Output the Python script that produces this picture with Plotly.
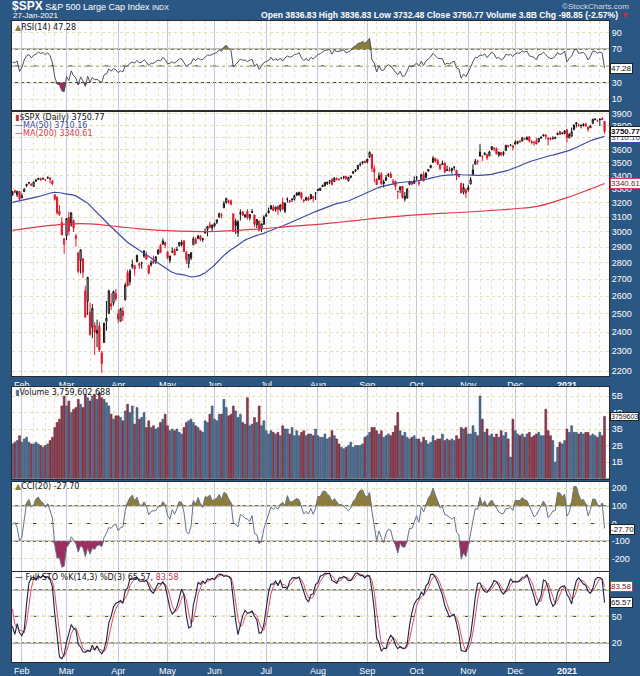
import numpy as np
import pandas as pd
import plotly.graph_objects as go

# ---------------- DATA ----------------
HOLIDAYS = ["2020-02-17", "2020-04-10", "2020-05-25", "2020-07-03", "2020-09-07",
            "2020-11-26", "2020-12-25", "2021-01-01", "2021-01-18"]
FIRST_DAY, LAST_DAY = "2020-01-28", "2021-01-27"

opens = [
    3255.35, 3289.46, 3256.45, 3282.33,
    3235.66, 3280.61, 3324.91, 3344.92, 3335.54, 3318.28, 3365.87, 3370.50, 3365.90, 3378.08, 3369.04, 3380.39, 3380.45, 3360.50, 3257.61, 3238.94, 3139.90, 3062.54, 2916.90,
    2974.28, 3096.46, 3045.75, 3075.70, 2954.20, 2863.89, 2813.48, 2825.60, 2630.86, 2569.99, 2508.59, 2425.66, 2436.50, 2393.48, 2431.94, 2290.71, 2344.44, 2457.77, 2501.29, 2555.87, 2558.98, 2614.69,
    2498.08, 2458.54, 2514.92, 2578.28, 2738.65, 2685.00, 2776.99, 2782.46, 2805.10, 2795.64, 2799.34, 2842.43, 2845.62, 2784.81, 2787.89, 2810.42, 2812.64, 2854.65, 2909.96, 2918.46, 2930.91,
    2869.09, 2815.01, 2868.88, 2883.14, 2878.26, 2908.83, 2915.46, 2939.50, 2865.86, 2794.54, 2829.95, 2913.86, 2948.59, 2953.63, 2969.95, 2948.05, 3004.08, 3015.65, 3046.61, 3025.17,
    3038.78, 3064.78, 3098.90, 3111.56, 3163.84, 3199.92, 3213.32, 3213.42, 3123.53, 3071.04, 2993.76, 3131.00, 3136.13, 3101.64, 3140.29, 3094.42, 3138.70, 3114.40, 3046.60, 3073.20, 3018.59, 3050.20,
    3105.92, 3143.64, 3155.29, 3166.44, 3153.07, 3176.17, 3152.47, 3205.08, 3141.11, 3225.98, 3208.36, 3224.21, 3224.29, 3268.52, 3254.86, 3271.64, 3218.58, 3219.84, 3234.27, 3227.22, 3231.76, 3270.45,
    3288.26, 3289.92, 3317.37, 3323.17, 3340.05, 3356.04, 3370.34, 3355.46, 3372.95, 3368.66, 3380.86, 3387.04, 3392.51, 3360.48, 3386.01, 3418.09, 3435.95, 3449.97, 3485.14, 3494.69, 3509.73,
    3507.44, 3543.76, 3564.74, 3453.60, 3371.88, 3369.82, 3412.56, 3352.70, 3363.56, 3407.73, 3411.23, 3346.86, 3357.38, 3285.57, 3295.75, 3320.11, 3226.14, 3236.66, 3333.90, 3350.92, 3341.21,
    3385.87, 3338.94, 3367.27, 3408.74, 3384.56, 3434.28, 3459.67, 3500.02, 3534.01, 3515.47, 3453.72, 3493.50, 3493.66, 3439.38, 3439.91, 3438.50, 3464.90, 3441.42, 3403.15, 3342.48, 3277.17, 3293.59,
    3296.20, 3336.25, 3406.46, 3485.74, 3508.34, 3583.04, 3543.26, 3563.22, 3562.67, 3552.57, 3600.16, 3610.31, 3612.09, 3559.41, 3579.31, 3566.82, 3594.52, 3635.50, 3638.55, 3634.18,
    3645.87, 3653.78, 3668.28, 3670.94, 3694.73, 3683.05, 3705.98, 3659.13, 3656.08, 3675.27, 3666.41, 3696.25, 3713.65, 3722.39, 3684.28, 3698.08, 3693.42, 3694.03, 3723.03, 3750.01, 3736.19, 3733.27,
    3764.61, 3698.02, 3712.20, 3764.71, 3815.05, 3803.14, 3801.62, 3802.23, 3814.98, 3788.73, 3781.88, 3816.22, 3857.46, 3844.24, 3851.68, 3862.96, 3836.83,
]
highs = [
    3285.78, 3293.47, 3285.91, 3282.33,
    3268.44, 3306.92, 3337.58, 3347.96, 3341.42, 3352.26, 3375.63, 3381.47, 3385.09, 3380.69, 3375.01, 3393.52, 3389.15, 3360.76, 3259.81, 3246.99, 3182.51, 3097.07, 2959.72,
    3090.96, 3136.72, 3130.97, 3083.04, 2985.93, 2863.89, 2882.59, 2825.60, 2660.95, 2711.33, 2562.98, 2553.93, 2453.57, 2466.97, 2453.01, 2300.73, 2449.71, 2571.42, 2637.01, 2615.91, 2631.80, 2641.39,
    2522.75, 2533.22, 2538.18, 2676.85, 2756.89, 2760.75, 2818.57, 2782.46, 2851.85, 2801.88, 2806.51, 2879.22, 2868.98, 2785.54, 2815.10, 2844.90, 2842.71, 2887.72, 2921.15, 2954.86, 2930.91,
    2869.09, 2844.24, 2898.23, 2891.11, 2901.92, 2932.16, 2944.25, 2945.82, 2874.14, 2852.80, 2865.01, 2968.09, 2964.21, 2980.29, 2978.50, 2956.76, 3021.72, 3036.25, 3068.67, 3049.17,
    3062.18, 3081.07, 3130.94, 3128.91, 3211.72, 3233.13, 3222.71, 3223.27, 3123.53, 3088.42, 3079.76, 3153.45, 3141.16, 3120.00, 3155.53, 3120.92, 3154.90, 3115.01, 3086.25, 3073.73, 3053.89, 3111.51,
    3128.44, 3165.81, 3182.59, 3184.15, 3171.80, 3179.78, 3186.82, 3235.32, 3200.95, 3238.28, 3220.39, 3233.52, 3258.61, 3277.29, 3279.32, 3279.99, 3227.26, 3241.43, 3243.72, 3264.74, 3250.92, 3272.17,
    3302.73, 3306.84, 3330.77, 3351.03, 3352.54, 3363.29, 3381.01, 3387.89, 3387.24, 3378.51, 3387.59, 3395.06, 3399.54, 3390.80, 3399.96, 3432.09, 3444.21, 3481.07, 3501.38, 3509.23, 3514.77,
    3528.03, 3588.11, 3564.85, 3479.15, 3379.97, 3424.77, 3425.55, 3368.95, 3402.93, 3419.48, 3428.92, 3375.17, 3362.27, 3285.57, 3320.31, 3323.35, 3278.70, 3306.88, 3360.74, 3357.92, 3393.56,
    3397.18, 3369.10, 3409.57, 3431.56, 3426.26, 3447.28, 3482.34, 3549.85, 3534.01, 3527.94, 3489.08, 3515.76, 3502.42, 3476.93, 3464.86, 3460.53, 3466.46, 3441.42, 3409.51, 3342.48, 3341.05, 3304.93,
    3330.14, 3389.49, 3486.25, 3529.05, 3521.58, 3645.99, 3557.22, 3581.16, 3569.02, 3593.66, 3628.51, 3623.11, 3619.09, 3585.22, 3581.23, 3589.81, 3642.31, 3635.50, 3644.31, 3634.18,
    3678.45, 3670.96, 3682.73, 3699.20, 3697.41, 3708.45, 3712.39, 3678.49, 3665.91, 3697.61, 3695.29, 3711.27, 3725.12, 3726.70, 3702.90, 3698.26, 3711.24, 3703.82, 3740.51, 3756.12, 3744.63, 3760.20,
    3769.99, 3737.83, 3783.04, 3811.55, 3826.69, 3817.86, 3810.78, 3820.96, 3823.60, 3788.73, 3804.53, 3859.75, 3861.45, 3852.31, 3859.23, 3870.90, 3836.83,
]
lows = [
    3253.22, 3271.89, 3242.80, 3214.68,
    3235.66, 3280.61, 3313.75, 3334.39, 3322.12, 3317.77, 3352.72, 3369.72, 3360.52, 3366.15, 3355.61, 3378.83, 3341.02, 3328.45, 3214.65, 3118.77, 3108.99, 2977.39, 2855.84,
    2945.19, 2976.63, 3034.38, 2999.83, 2901.54, 2734.43, 2734.00, 2707.22, 2478.86, 2492.37, 2380.94, 2367.04, 2280.52, 2319.78, 2295.56, 2191.86, 2344.44, 2407.53, 2500.72, 2520.02, 2545.28, 2571.15,
    2447.49, 2455.79, 2459.96, 2574.57, 2657.67, 2663.30, 2762.36, 2721.17, 2805.10, 2761.54, 2764.32, 2830.88, 2820.43, 2727.10, 2775.95, 2794.26, 2791.76, 2852.89, 2860.71, 2912.16, 2892.47,
    2821.61, 2797.85, 2863.55, 2847.65, 2876.48, 2902.88, 2903.44, 2869.59, 2793.15, 2766.64, 2816.78, 2913.86, 2922.35, 2953.63, 2938.57, 2933.59, 2988.17, 2969.75, 3023.40, 2998.61,
    3031.54, 3051.64, 3098.90, 3090.41, 3163.84, 3196.00, 3193.11, 3181.49, 2999.49, 2984.47, 2965.66, 3076.06, 3108.03, 3093.51, 3083.11, 3079.39, 3127.12, 3032.13, 3024.01, 3004.63, 2999.74, 3047.83,
    3101.17, 3124.52, 3155.29, 3142.93, 3136.53, 3115.70, 3136.22, 3149.43, 3127.66, 3200.76, 3198.59, 3205.65, 3215.16, 3247.77, 3253.10, 3222.66, 3200.05, 3214.25, 3216.17, 3227.22, 3204.13, 3220.26,
    3284.53, 3286.37, 3317.37, 3318.14, 3328.72, 3335.44, 3326.44, 3355.46, 3363.35, 3361.64, 3379.22, 3370.15, 3369.66, 3354.69, 3379.31, 3413.13, 3425.84, 3444.15, 3468.35, 3484.32, 3493.25,
    3494.60, 3535.23, 3427.41, 3349.63, 3329.27, 3366.84, 3329.25, 3310.47, 3363.56, 3389.25, 3384.45, 3328.82, 3292.40, 3229.10, 3270.95, 3232.57, 3209.45, 3228.44, 3332.91, 3327.54, 3340.47,
    3361.39, 3323.69, 3367.27, 3354.54, 3384.56, 3428.15, 3458.07, 3499.61, 3500.86, 3480.55, 3440.89, 3480.45, 3419.93, 3435.65, 3433.06, 3415.34, 3440.45, 3364.86, 3388.71, 3268.89, 3259.82, 3233.94,
    3279.74, 3336.25, 3405.17, 3485.74, 3484.34, 3547.48, 3511.91, 3557.00, 3518.58, 3552.57, 3600.16, 3588.68, 3567.33, 3543.84, 3556.85, 3552.77, 3594.52, 3617.76, 3629.33, 3594.39,
    3645.87, 3644.84, 3657.17, 3670.94, 3678.88, 3678.83, 3660.54, 3645.18, 3633.40, 3645.84, 3659.62, 3688.57, 3710.87, 3685.84, 3636.48, 3676.16, 3689.28, 3689.32, 3723.03, 3723.31, 3730.21, 3726.88,
    3662.71, 3695.07, 3705.34, 3764.71, 3783.60, 3789.02, 3776.51, 3791.50, 3792.86, 3749.62, 3780.37, 3816.22, 3845.05, 3830.41, 3797.16, 3847.78, 3732.48,
]
closes = [
    3276.24, 3273.40, 3283.66, 3225.52,
    3248.92, 3297.59, 3334.69, 3345.78, 3327.71, 3352.09, 3357.75, 3379.45, 3373.94, 3380.16, 3370.29, 3386.15, 3373.23, 3337.75, 3225.89, 3128.21, 3116.39, 2978.76, 2954.22,
    3090.23, 3003.37, 3130.12, 3023.94, 2972.37, 2746.56, 2882.23, 2741.38, 2480.64, 2711.02, 2386.13, 2529.19, 2398.10, 2409.39, 2304.92, 2237.40, 2447.33, 2475.56, 2630.07, 2541.47, 2626.65, 2584.59,
    2470.50, 2526.90, 2488.65, 2663.68, 2659.41, 2749.98, 2789.82, 2761.63, 2846.06, 2783.36, 2799.55, 2874.56, 2823.16, 2736.56, 2799.31, 2797.80, 2836.74, 2878.48, 2863.39, 2939.51, 2912.43,
    2830.71, 2842.74, 2868.44, 2848.42, 2881.19, 2929.80, 2930.32, 2870.12, 2820.00, 2852.50, 2863.70, 2953.91, 2922.94, 2971.61, 2948.51, 2955.45, 2991.77, 3036.13, 3029.73, 3044.31,
    3055.73, 3080.82, 3122.87, 3112.35, 3193.93, 3232.39, 3207.18, 3190.14, 3002.10, 3041.31, 3066.59, 3124.74, 3113.49, 3115.34, 3097.74, 3117.86, 3131.29, 3050.33, 3083.76, 3009.05, 3053.24, 3100.29,
    3115.86, 3130.01, 3179.72, 3145.32, 3169.94, 3152.05, 3185.04, 3155.22, 3197.52, 3226.56, 3215.57, 3224.73, 3251.84, 3257.30, 3276.02, 3235.66, 3215.63, 3239.41, 3218.44, 3258.44, 3246.22, 3271.12,
    3294.61, 3306.51, 3327.77, 3349.16, 3351.28, 3360.47, 3333.69, 3380.35, 3373.43, 3372.85, 3381.99, 3389.78, 3374.85, 3385.51, 3397.16, 3431.28, 3443.62, 3478.73, 3484.55, 3508.01, 3500.31,
    3526.65, 3580.84, 3455.06, 3426.96, 3331.84, 3398.96, 3339.19, 3340.97, 3383.54, 3401.20, 3385.49, 3357.01, 3319.47, 3281.06, 3315.57, 3236.92, 3246.59, 3298.46, 3351.60, 3335.47, 3363.00,
    3380.80, 3348.42, 3408.60, 3360.97, 3419.44, 3446.83, 3477.14, 3534.22, 3511.93, 3488.67, 3483.34, 3483.81, 3426.92, 3443.12, 3435.56, 3453.49, 3465.39, 3400.97, 3390.68, 3271.03, 3310.11, 3269.96,
    3310.24, 3369.16, 3443.44, 3510.45, 3509.44, 3550.50, 3545.53, 3572.66, 3537.01, 3585.15, 3626.91, 3609.53, 3567.79, 3581.87, 3557.54, 3577.59, 3635.41, 3629.65, 3638.35, 3621.63,
    3662.45, 3669.01, 3666.72, 3699.12, 3691.96, 3702.25, 3672.82, 3668.10, 3663.46, 3647.49, 3694.62, 3701.17, 3722.48, 3709.41, 3694.92, 3687.26, 3690.01, 3703.06, 3735.36, 3727.04, 3732.04, 3756.07,
    3700.65, 3726.86, 3748.14, 3803.79, 3824.68, 3799.61, 3801.19, 3809.84, 3795.54, 3768.25, 3798.91, 3851.85, 3853.07, 3841.47, 3855.36, 3849.62, 3750.77,
]
volumes_bn = [
    2.1, 2.2, 2.3, 2.6,
    2.2, 2.4, 2.5, 2.2, 2.1, 2.1, 2.2, 2.1, 2.0, 1.9, 2.0, 2.1, 2.3, 2.5, 3.1, 3.4, 3.6, 4.4, 5.0,
    4.4, 4.7, 4.0, 4.2, 4.3, 4.8, 4.5, 4.3, 5.1, 4.9, 4.7, 5.0, 5.1, 4.8, 5.2, 4.9, 4.8, 4.6, 4.4, 3.9, 3.6, 3.8,
    3.8, 3.7, 3.5, 4.1, 4.5, 4.0, 4.4, 3.3, 4.3, 3.6, 3.7, 4.0, 3.1, 3.5, 3.1, 3.2, 3.0, 3.1, 3.4, 3.6, 3.9,
    3.2, 2.9, 3.0, 2.9, 3.0, 2.8, 2.7, 3.1, 3.4, 3.5, 3.6, 3.4, 3.2, 3.1, 2.9, 2.8, 3.5, 3.4, 3.9, 4.4,
    3.6, 3.5, 3.9, 3.9, 4.8, 4.3, 3.8, 3.9, 4.4, 4.1, 3.7, 3.9, 3.4, 3.3, 4.9, 3.2, 3.3, 3.7, 3.4, 4.4, 3.2, 3.5,
    2.9, 2.7, 2.9, 2.8, 2.7, 2.8, 2.6, 3.2, 3.0, 3.0, 2.7, 3.1, 2.6, 2.9, 2.6, 2.8, 2.9, 2.6, 2.7, 2.7, 2.6, 3.0,
    2.6, 2.5, 2.5, 2.7, 2.4, 2.5, 2.9, 2.6, 2.4, 2.1, 1.9, 1.8, 1.9, 2.0, 2.2, 1.9, 2.0, 2.0, 2.0, 2.1, 2.5,
    2.6, 2.8, 3.1, 3.1, 2.9, 2.7, 2.9, 2.5, 2.6, 2.7, 2.6, 2.8, 3.2, 4.0, 2.9, 2.6, 2.8, 2.5, 2.4, 2.5, 2.6,
    2.4, 2.4, 2.2, 2.5, 2.3, 2.1, 2.2, 2.6, 2.3, 2.4, 2.4, 2.7, 2.3, 2.4, 2.3, 2.4, 2.3, 2.6, 2.4, 3.1, 3.0, 3.1,
    2.7, 2.7, 3.2, 2.8, 2.6, 5.0, 3.6, 2.8, 3.0, 2.6, 2.7, 2.5, 2.7, 2.5, 2.9, 2.6, 2.8, 2.4, 1.3, 3.6,
    2.9, 2.7, 2.6, 2.7, 2.5, 2.7, 2.8, 2.5, 2.6, 2.7, 2.8, 2.6, 2.6, 4.2, 2.9, 2.6, 2.3, 1.0, 1.9, 2.2, 2.1, 2.3,
    3.0, 2.8, 3.2, 2.8, 2.8, 2.7, 2.8, 2.7, 2.8, 2.8, 2.6, 2.7, 2.6, 2.5, 2.8, 2.6, 3.759602688,
]
# closes before the window (Nov 1 2019 .. Jan 27 2020), used for MA(50) and RSI warm-up
warm_closes = [
    3066.91, 3078.27, 3074.62, 3076.78, 3085.18, 3093.08, 3087.01, 3091.84, 3094.04, 3096.63,
    3120.46, 3122.03, 3120.18, 3108.46, 3103.54, 3110.29, 3133.64, 3140.52, 3153.63, 3140.98,
    3113.87, 3093.20, 3112.76, 3117.43, 3145.91, 3135.96, 3132.52, 3141.63, 3168.57, 3168.80,
    3191.45, 3192.52, 3191.14, 3205.37, 3221.22, 3224.01, 3223.38, 3239.91, 3240.02, 3221.29, 3230.78,
    3257.85, 3234.85, 3246.28, 3237.18, 3253.05, 3274.70, 3265.35, 3288.13, 3283.15, 3289.29,
    3316.81, 3329.62, 3320.79, 3321.75, 3325.54, 3295.47, 3243.63,
]
# highs / lows of the last 20 warm-up days (Dec 27 2019 .. Jan 27 2020)
warm_highs = [3247.93, 3240.92, 3231.72, 3258.14, 3246.15, 3246.84, 3244.91, 3267.07, 3275.58, 3282.99,
              3288.13, 3294.25, 3298.66, 3316.81, 3329.88, 3329.79, 3337.77, 3326.88, 3333.18, 3258.85]
warm_lows = [3234.37, 3216.57, 3212.03, 3235.53, 3222.34, 3214.64, 3232.43, 3236.67, 3263.67, 3260.86,
             3268.43, 3277.19, 3280.69, 3302.82, 3318.86, 3316.61, 3320.04, 3301.87, 3281.53, 3234.50]

ma200_dates = ["2020-01-28", "2020-02-18", "2020-03-02", "2020-03-16", "2020-04-01", "2020-04-15",
               "2020-05-01", "2020-05-15", "2020-06-01", "2020-06-15", "2020-07-01", "2020-07-15",
               "2020-08-03", "2020-08-17", "2020-09-01", "2020-09-15", "2020-10-01", "2020-10-15",
               "2020-11-02", "2020-11-16", "2020-12-01", "2020-12-15", "2021-01-04", "2021-01-15",
               "2021-01-27"]
ma200_values = [3010, 3040, 3052, 3053, 3035, 3020, 3008, 3003, 3002, 3010, 3022, 3035,
                3050, 3066, 3085, 3100, 3115, 3125, 3135, 3146, 3158, 3177, 3237, 3293, 3340.61]

# tick labels (labels the reference hides behind its value tags are left blank)
price_ticks = list(range(2200, 4000, 100))
price_tick_text = ["" if v == 3700 else str(v) for v in price_ticks]
rsi_ticks = [10, 30, 50, 70, 90]
rsi_tick_text = ["10", "30", "", "70", "90"]
vol_ticks = [1, 2, 3, 4, 5]
vol_tick_text = ["1B", "2B", "3B", "4B", "5B"]
cci_ticks = [-200, -100, 0, 100, 200]
cci_tick_text = ["-200", "-100", "0", "100", "200"]
sto_ticks = [20, 50, 80]
sto_tick_text = ["20", "50", ""]

# ---------------- DERIVED ----------------
dates = [d for d in pd.bdate_range(FIRST_DAY, LAST_DAY) if d.strftime("%Y-%m-%d") not in HOLIDAYS]
n = len(closes)
assert len(dates) == n == len(opens) == len(highs) == len(lows) == len(volumes_bn)
assert len(warm_highs) == len(warm_lows) == 20
assert len(ma200_dates) == len(ma200_values)
xi = np.arange(n)
didx = {d.strftime("%Y-%m-%d"): i for i, d in enumerate(dates)}

allc = np.array(warm_closes + closes, dtype=float)
nw = len(warm_closes)
ma50 = np.array([allc[nw + i - 49: nw + i + 1].mean() for i in range(n)])

dif = np.diff(allc)
gain = np.clip(dif, 0, None)
loss = np.clip(-dif, 0, None)
ag, al = gain[:14].mean(), loss[:14].mean()
rsi_all = np.full(len(allc), np.nan)
rsi_all[14] = 100 - 100 / (1 + ag / al)
for k in range(14, len(dif)):
    ag = (ag * 13 + gain[k]) / 14
    al = (al * 13 + loss[k]) / 14
    rsi_all[k + 1] = 100 - 100 / (1 + ag / al)
rsi = rsi_all[nw:]

H = np.array(warm_highs + highs, dtype=float)
L = np.array(warm_lows + lows, dtype=float)
C = np.array(warm_closes[-20:] + closes, dtype=float)
tp = (H + L + C) / 3
cci = []
for i in range(n):
    w = tp[20 + i - 19: 20 + i + 1]
    m = w.mean()
    md = np.abs(w - m).mean()
    cci.append((tp[20 + i] - m) / (0.015 * md))
cci = np.array(cci)

fastk = np.full(len(C), np.nan)
for j in range(13, len(C)):
    hh, ll = H[j - 13:j + 1].max(), L[j - 13:j + 1].min()
    fastk[j] = 100 * (C[j] - ll) / (hh - ll)
fullk = np.full(len(C), np.nan)
for j in range(15, len(C)):
    fullk[j] = fastk[j - 2:j + 1].mean()
pctd = np.full(len(C), np.nan)
for j in range(17, len(C)):
    pctd[j] = fullk[j - 2:j + 1].mean()
stok = fullk[20:]
stod = pctd[20:]

prev_close = allc[nw - 1: nw - 1 + n]
is_up = np.array(closes) >= prev_close

tick_idx = [i for i in range(1, n) if dates[i].month != dates[i - 1].month]
tick_txt = [("<b>%d</b>" % dates[i].year) if dates[i].month == 1 else dates[i].strftime("%b") for i in tick_idx]
week_idx = [i for i in range(1, n) if dates[i].weekday() < dates[i - 1].weekday() and i not in tick_idx]

# ---------------- FIGURE ----------------
W, HGT = 640, 676
ML, MR, MT, MB = 12, 31, 21, 14
PH = HGT - MT - MB
def py(p):
    return (HGT - MB - p) / PH
def pxp(p):
    return (p - ML) / (W - ML - MR)

FONT = "Liberation Sans, Arial, sans-serif"
LFONT = "DejaVu Sans, Verdana, sans-serif"
OLIVE = "#8c7d3c"
MAROON = "#9c2d5e"
BLUE = "#3b4ba3"
RED = "#e0384a"

fig = go.Figure()
skip = dict(hoverinfo="skip", showlegend=False)

# RSI panel
fig.add_trace(go.Scatter(x=xi, y=[70] * n, mode="lines", line=dict(width=0), xaxis="x", yaxis="y", **skip))
fig.add_trace(go.Scatter(x=xi, y=np.maximum(rsi, 70), mode="lines", line=dict(width=0), fill="tonexty",
                         fillcolor=OLIVE, xaxis="x", yaxis="y", **skip))
fig.add_trace(go.Scatter(x=xi, y=[30] * n, mode="lines", line=dict(width=0), xaxis="x", yaxis="y", **skip))
fig.add_trace(go.Scatter(x=xi, y=np.minimum(rsi, 30), mode="lines", line=dict(width=0), fill="tonexty",
                         fillcolor=MAROON, xaxis="x", yaxis="y", **skip))
fig.add_trace(go.Scatter(x=xi, y=rsi, mode="lines", line=dict(color="#4a5262", width=1), xaxis="x", yaxis="y", **skip))

# Price panel: candles coloured by close vs previous close
for up, col in [(True, "#111111"), (False, "#e0182e")]:
    sel = np.where(is_up == up)[0]
    fig.add_trace(go.Candlestick(
        x=sel, open=np.array(opens)[sel], high=np.array(highs)[sel], low=np.array(lows)[sel],
        close=np.array(closes)[sel], xaxis="x2", yaxis="y2",
        increasing=dict(line=dict(color=col, width=1), fillcolor="#ffffff"),
        decreasing=dict(line=dict(color=col, width=1), fillcolor=col),
        whiskerwidth=0, hoverinfo="skip", showlegend=False))
fig.add_trace(go.Scatter(x=xi, y=ma50, mode="lines", line=dict(color=BLUE, width=1.2), xaxis="x2", yaxis="y2", **skip))
fig.add_trace(go.Scatter(x=[didx[d] for d in ma200_dates], y=ma200_values, mode="lines", line_shape="spline",
                         line=dict(color=RED, width=1.2), xaxis="x2", yaxis="y2", **skip))

# Volume panel
vcols = ["#4f6e92" if u else "#8e3a4c" for u in is_up]
vline = ["#2e4563" if u else "#5c2030" for u in is_up]
fig.add_trace(go.Bar(x=xi, y=np.array(volumes_bn), marker=dict(color=vcols, line=dict(color=vline, width=0.5)),
                     xaxis="x3", yaxis="y3", **skip))

# CCI panel
fig.add_trace(go.Scatter(x=xi, y=[100] * n, mode="lines", line=dict(width=0), xaxis="x4", yaxis="y4", **skip))
fig.add_trace(go.Scatter(x=xi, y=np.maximum(cci, 100), mode="lines", line=dict(width=0), fill="tonexty",
                         fillcolor=OLIVE, xaxis="x4", yaxis="y4", **skip))
fig.add_trace(go.Scatter(x=xi, y=[-100] * n, mode="lines", line=dict(width=0), xaxis="x4", yaxis="y4", **skip))
fig.add_trace(go.Scatter(x=xi, y=np.minimum(cci, -100), mode="lines", line=dict(width=0), fill="tonexty",
                         fillcolor=MAROON, xaxis="x4", yaxis="y4", **skip))
fig.add_trace(go.Scatter(x=xi, y=cci, mode="lines", line=dict(color="#64748a", width=1), xaxis="x4", yaxis="y4", **skip))

# STO panel
fig.add_trace(go.Scatter(x=xi, y=stod, mode="lines", line=dict(color="#d8506a", width=1), xaxis="x5", yaxis="y5", **skip))
fig.add_trace(go.Scatter(x=xi, y=stok, mode="lines", line=dict(color="#1c2440", width=1.1), xaxis="x5", yaxis="y5", **skip))

# axes
xcommon = dict(range=[-0.2, 253.9], showgrid=True, gridcolor="#c4c7d6", gridwidth=1, automargin=False,
               tickmode="array", tickvals=tick_idx, ticktext=tick_txt, ticks="",
               showline=True, mirror=True, linecolor="#2a2a2a", linewidth=1, zeroline=False,
               tickfont=dict(family=FONT, size=9, color="white"),
               minor=dict(tickmode="array", tickvals=week_idx, showgrid=True, gridcolor="#e9e3b8",
                          griddash="dot", gridwidth=1))
ycommon = dict(side="right", showgrid=True, gridcolor="#e6dfa8", griddash="dot", gridwidth=1, automargin=False,
               ticks="", showline=True, mirror=True, linecolor="#2a2a2a", linewidth=1, zeroline=False,
               tickfont=dict(family=FONT, size=9, color="white"))

lay = dict(
    width=W, height=HGT, margin=dict(l=ML, r=MR, t=MT, b=MB, autoexpand=False),
    paper_bgcolor="#2b5785", plot_bgcolor="#fdfdff", showlegend=False, hovermode=False,
    bargap=0.18,
)
panels = [
    ("", [py(110), 1.0], dict(range=[-2.8, 103.7], tickvals=rsi_ticks, ticktext=rsi_tick_text), False),
    ("2", [py(376), py(112)], dict(type="log", range=[np.log10(2176), np.log10(3917)], tickvals=price_ticks,
                                   ticktext=price_tick_text), True),
    ("3", [py(478.5), py(387)], dict(range=[0, 5.55], tickvals=vol_ticks, ticktext=vol_tick_text), False),
    ("4", [py(571), py(481.5)], dict(range=[-268, 237], tickvals=cci_ticks, ticktext=cci_tick_text), False),
    ("5", [0.0, py(572)], dict(range=[-1.6, 100.2], tickvals=sto_ticks, ticktext=sto_tick_text), True),
]
for s, dom, yextra, showx in panels:
    xa = dict(xcommon, anchor="y" + s, domain=[0, 1], showticklabels=showx)
    if s:
        xa["matches"] = "x"
    xa["rangeslider"] = dict(visible=False)
    ya = dict(ycommon, anchor="x" + s, domain=dom, tickmode="array", **yextra)
    lay["xaxis" + s] = xa
    lay["yaxis" + s] = ya
fig.update_layout(**lay)

# reference lines
def hline(yref, xref, y, dash="solid"):
    fig.add_shape(type="line", xref=xref + " domain", x0=0, x1=1, yref=yref, y0=y, y1=y,
                  line=dict(color="#3a3a3a", width=1, dash=dash), layer="below")
hline("y", "x", 70); hline("y", "x", 30); hline("y", "x", 50, "dashdot")
hline("y4", "x4", 100); hline("y4", "x4", -100); hline("y4", "x4", 0, "dashdot")
hline("y5", "x5", 80); hline("y5", "x5", 20); hline("y5", "x5", 50, "dashdot")

# text
def note(text, xp, ypix, size=8, color="#111111", family=LFONT, xanchor="left", **kw):
    fig.add_annotation(text=text, xref="paper", yref="paper", x=pxp(xp), y=py(ypix),
                       xanchor=xanchor, yanchor="middle", showarrow=False,
                       font=dict(family=family, size=size, color=color), **kw)

note("<b><span style='font-size:12px'>$SPX</span></b> S&P 500 Large Cap Index <span style='font-size:7px'>INDX</span>",
     10, 6, size=9, color="white", family=FONT)
note("27-Jan-2021", 11, 15.5, size=8, color="white", family=FONT)
note("©StockCharts.com", 631, 6, size=8, color="#d4dbe6", family=FONT, xanchor="right")
note("<b>Open 3836.83 High 3836.83 Low 3732.48 Close 3750.77 "
     "Volume 3.8B Chg -98.85 (-2.57%)</b> <span style='color:#e02030'>▼</span>",
     631, 15.5, size=8.6, color="white", family=FONT, xanchor="right")

note("<span style='color:#8c7d3c'>▲</span>RSI(14) 47.28", 13, 27.5)
note("<span style='color:#c03030'>▮</span>$SPX (Daily) 3750.77", 13, 117.5)
note("<span style='color:%s'>—</span>MA(50) 3710.16" % BLUE, 13, 125.5, color=BLUE)
note("<span style='color:%s'>—</span>MA(200) 3340.61" % RED, 13, 133.5, color=RED)
note("<span style='color:#4f6e92'>▮</span>Volume 3,759,602,688", 13, 392.5)
note("<span style='color:#8c7d3c'>▲</span>CCI(20) -27.70", 13, 486.5)
note("— Full STO %K(14,3) %D(3) 65.57, <span style='color:#c0394e'>83.58</span>", 13, 577)

# last-value tags on the right axis
def tag(text, yref, yval, border="#222222", color="#111111", bold=False, yshift=0, size=8):
    fig.add_annotation(text=("<b>%s</b>" % text) if bold else text, xref="paper", x=1.0, xanchor="left",
                       xshift=1, yshift=yshift, yref=yref, y=yval, yanchor="middle", showarrow=False,
                       font=dict(family=FONT, size=size, color=color), bgcolor="#ffffff",
                       bordercolor=border, borderwidth=1, borderpad=0)
tag("47.28", "y", 47.28)
tag("3710.16", "y2", np.log10(3710.16), border=BLUE, color=BLUE, yshift=-1)
tag("3750.77", "y2", np.log10(3750.77), bold=True)
tag("3340.61", "y2", np.log10(3340.61), border=RED, color="#702020")
tag("3759603", "y3", 3.7596, size=7)
tag("-27.70", "y4", -27.70, yshift=-1)
tag("83.58", "y5", 83.58, border="#c0394e", color="#702030")
tag("65.57", "y5", 65.57)

fig.write_html("out.html")
